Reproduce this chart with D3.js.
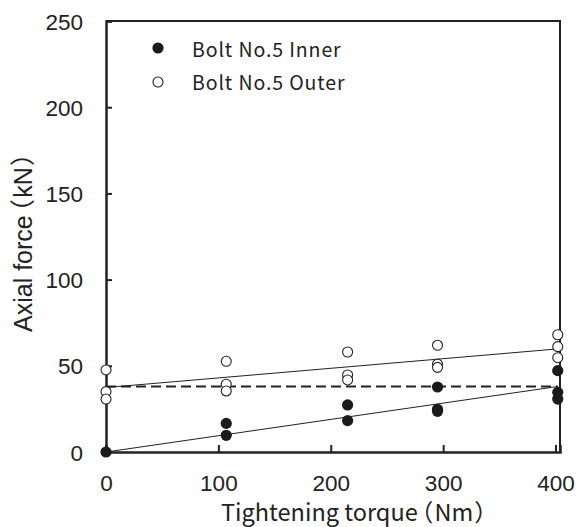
<!DOCTYPE html>
<html><head><meta charset="utf-8">
<script src="https://cdn.jsdelivr.net/npm/d3@7"></script>
<style>body{margin:0;background:#fff}</style>
</head><body>
<svg id="c" width="577" height="527"></svg>
<script>
// Data
const innerTorque = [0, 107, 107, 215, 215, 295, 295, 295, 402, 402, 402];
const innerForce  = [0, 16.6, 9.7, 27.3, 18.2, 37.7, 24.8, 23.6, 47.2, 34.6, 30.7];
const outerTorque = [0, 0, 0, 107, 107, 107, 215, 215, 215, 295, 295, 295, 402, 402, 402];
const outerForce  = [47.6, 35, 30.7, 52.6, 39.3, 35.4, 58, 44.7, 41.8, 61.9, 51, 49.1, 68, 61.1, 54.7];
const innerFitX = [0, 402];
const innerFitY = [0, 38];
const outerFitX = [0, 402];
const outerFitY = [37.4, 59.8];
const refX = [0, 402];
const refY = [38, 38];
const xTicks = [0, 100, 200, 300, 400];
const yTicks = [0, 50, 100, 150, 200, 250];
const legendLabels = ["Bolt No.5 Inner", "Bolt No.5 Outer"];

const svg = d3.select("#c");
const x = d3.scaleLinear().domain([0, 404]).range([106, 560]);
const y = d3.scaleLinear().domain([0, 250]).range([452, 21]);
const ink = "#222";
const cjk = "'Noto Sans CJK JP', sans-serif";
const arial = "'Liberation Sans', Arial, sans-serif";

// frame
svg.append("path")
  .attr("d", `M${x(0)},${y(250)}H${x(404)}V${y(0)}`)
  .attr("fill", "none").attr("stroke", ink).attr("stroke-width", 2);

const xAxis = svg.append("g").attr("transform", `translate(0,${y(0)})`)
  .call(d3.axisBottom(x).tickValues(xTicks).tickSize(-7).tickPadding(23).tickFormat(d3.format("d")));
const yAxis = svg.append("g").attr("transform", `translate(${x(0)},0)`)
  .call(d3.axisLeft(y).tickValues(yTicks).tickSize(-6).tickPadding(24).tickFormat(d3.format("d")));
[xAxis, yAxis].forEach(g => {
  g.select(".domain").attr("stroke", ink).attr("stroke-width", 2.5);
  g.selectAll(".tick line").attr("stroke", ink).attr("stroke-width", 2);
  g.selectAll(".tick text").attr("fill", ink)
    .style("font-family", arial).style("font-size", "22.5px");
});
xAxis.selectAll(".tick text").attr("dy", "0.71em");
yAxis.selectAll(".tick text").attr("x", -23).attr("dy", "0.36em");

// lines
const line = d3.line().x(d => x(d[0])).y(d => y(d[1]));
svg.append("path").datum(d3.zip(refX, refY)).attr("d", line)
  .attr("stroke", ink).attr("stroke-width", 2.2).attr("stroke-dasharray", "10,5").attr("fill", "none");
svg.append("path").datum(d3.zip(innerFitX, innerFitY)).attr("d", line)
  .attr("stroke", ink).attr("stroke-width", 1).attr("fill", "none");
svg.append("path").datum(d3.zip(outerFitX, outerFitY)).attr("d", line)
  .attr("stroke", ink).attr("stroke-width", 1).attr("fill", "none");

// points
svg.append("g").selectAll("circle").data(d3.zip(outerTorque, outerForce)).join("circle")
  .attr("cx", d => x(d[0])).attr("cy", d => y(d[1])).attr("r", 5)
  .attr("fill", "#fff").attr("stroke", ink).attr("stroke-width", 1.1);
svg.append("g").selectAll("circle").data(d3.zip(innerTorque, innerForce)).join("circle")
  .attr("cx", d => x(d[0])).attr("cy", d => y(d[1])).attr("r", 5.6)
  .attr("fill", "#1a1a1a");

// legend
svg.append("circle").attr("cx", 158).attr("cy", 48).attr("r", 5.6).attr("fill", "#1a1a1a");
svg.append("circle").attr("cx", 158).attr("cy", 82).attr("r", 5).attr("fill", "#fff").attr("stroke", ink).attr("stroke-width", 1.1);
svg.selectAll(".leg").data(legendLabels).join("text").attr("class", "leg")
  .attr("x", 192).attr("y", (d, i) => 57 + i * 33).text(d => d)
  .attr("fill", ink).style("font-family", cjk).style("font-size", "19.5px")
  .style("letter-spacing", "0.9px");

// x axis title
const xt = svg.append("text").attr("x", 221).attr("y", 521)
  .attr("fill", ink).style("font-family", cjk).style("font-size", "23.5px")
  .style("font-feature-settings", "'palt' 1");
xt.append("tspan").text("Tightening torque");
xt.append("tspan").attr("dx", 3).text("（");
xt.append("tspan").attr("dx", 2).text("Nm");
xt.append("tspan").attr("dx", 2).text("）");

// y axis title
const yt = svg.append("text").attr("transform", "translate(32,332) rotate(-90)")
  .attr("fill", ink).style("font-family", arial).style("font-size", "25px");
yt.append("tspan").text("Axial force");
yt.append("tspan").attr("dx", 3).style("font-family", cjk).style("font-feature-settings", "'palt' 1").text("（");
yt.append("tspan").attr("dx", 2).text("kN");
yt.append("tspan").attr("dx", 2).style("font-family", cjk).style("font-feature-settings", "'palt' 1").text("）");
</script>
</body></html>
